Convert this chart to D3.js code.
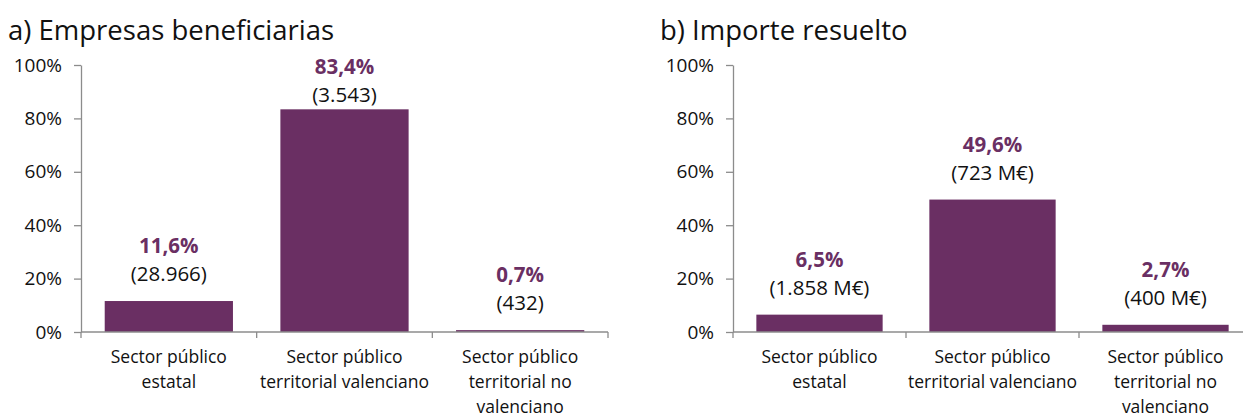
<!DOCTYPE html>
<html>
<head>
<meta charset="utf-8">
<script src="https://cdn.jsdelivr.net/npm/d3@7"></script>
<style>
  body { margin: 0; background: #fff; }
  text { font-family: "Open Sans", "Noto Sans", sans-serif; }
</style>
</head>
<body>
<div id="chart"></div>
<script>
// Data
var categories = ["Sector público\nestatal", "Sector público\nterritorial valenciano", "Sector público\nterritorial no\nvalenciano"];
var yTicks = [0, 20, 40, 60, 80, 100];

var empresasTitle  = "a) Empresas beneficiarias";
var empresasPct    = [11.6, 83.4, 0.7];
var empresasLabels = ["(28.966)", "(3.543)", "(432)"];

var importeTitle  = "b) Importe resuelto";
var importePct    = [6.5, 49.6, 2.7];
var importeLabels = ["(1.858 M€)", "(723 M€)", "(400 M€)"];

var width = 1243, height = 417;
var barColor = "#6a2f63", axisColor = "#8c8c8c";

var svg = d3.select("#chart").append("svg")
    .attr("width", width)
    .attr("height", height);

function drawPanel(title, values, labels, left, right, titleX) {
    var g = svg.append("g");

    var x = d3.scaleBand()
        .domain(categories)
        .range([left, right])
        .paddingInner(0.27)
        .paddingOuter(0.135);

    var y = d3.scaleLinear().domain([0, 100]).range([332, 65]);

    // title
    g.append("text")
        .attr("x", titleX)
        .attr("y", 40)
        .style("font-size", "27.5px")
        .attr("fill", "#111")
        .text(title);

    // bars
    g.selectAll("rect.bar")
        .data(values)
        .enter().append("rect")
        .attr("class", "bar")
        .attr("x", function (d, i) { return x(categories[i]); })
        .attr("width", x.bandwidth())
        .attr("y", function (d) { return y(d); })
        .attr("height", function (d) { return y(0) - y(d); })
        .attr("fill", barColor);

    // y axis
    var yAxis = g.append("g")
        .attr("transform", "translate(" + left + ",0)")
        .call(d3.axisLeft(y).tickValues(yTicks).tickSize(7).tickSizeOuter(0)
            .tickFormat(function (d) { return d + "%"; }));
    yAxis.select(".domain").attr("stroke", axisColor).attr("stroke-width", 1.3);
    yAxis.selectAll(".tick line").attr("stroke", axisColor).attr("stroke-width", 1.3);
    yAxis.selectAll(".tick text")
        .attr("x", -19)
        .style("font-size", "19px")
        .attr("fill", "#111");

    // x axis, ticks on band boundaries
    var xAxis = g.append("g");
    xAxis.append("line")
        .attr("x1", left).attr("x2", right)
        .attr("y1", y(0)).attr("y2", y(0))
        .attr("stroke", axisColor).attr("stroke-width", 1.3);
    xAxis.selectAll("line.tick")
        .data(d3.range(categories.length + 1))
        .enter().append("line")
        .attr("class", "tick")
        .attr("x1", function (i) { return left + i * x.step(); })
        .attr("x2", function (i) { return left + i * x.step(); })
        .attr("y1", y(0)).attr("y2", y(0) + 6)
        .attr("stroke", axisColor).attr("stroke-width", 1.3);

    var cat = xAxis.selectAll("text.cat")
        .data(categories)
        .enter().append("text")
        .attr("class", "cat")
        .attr("text-anchor", "middle")
        .attr("x", function (d) { return x(d) + x.bandwidth() / 2; })
        .attr("y", y(0) + 31)
        .style("font-size", "17.5px")
        .attr("fill", "#111");
    cat.selectAll("tspan")
        .data(function (d) { return d.split("\n"); })
        .enter().append("tspan")
        .attr("x", function () { return d3.select(this.parentNode).attr("x"); })
        .attr("dy", function (d, i) { return i === 0 ? 0 : 25; })
        .text(function (d) { return d; });

    // data labels (kept inside the plot area like the original)
    g.selectAll("text.pct")
        .data(values)
        .enter().append("text")
        .attr("class", "pct")
        .attr("text-anchor", "middle")
        .attr("x", function (d, i) { return x(categories[i]) + x.bandwidth() / 2; })
        .attr("y", function (d) { return Math.max(y(d) - 48, 74); })
        .style("font-size", "20.5px")
        .style("font-weight", "bold")
        .attr("fill", barColor)
        .text(function (d) { return d.toFixed(1).replace(".", ",") + "%"; });

    g.selectAll("text.val")
        .data(labels)
        .enter().append("text")
        .attr("class", "val")
        .attr("text-anchor", "middle")
        .attr("x", function (d, i) { return x(categories[i]) + x.bandwidth() / 2; })
        .attr("y", function (d, i) { return Math.max(y(values[i]) - 20, 102); })
        .style("font-size", "20.5px")
        .attr("fill", "#111")
        .text(function (d) { return d; });
}

drawPanel(empresasTitle, empresasPct, empresasLabels, 81, 608, 8);
drawPanel(importeTitle, importePct, importeLabels, 733, 1252, 660);
</script>
</body>
</html>
